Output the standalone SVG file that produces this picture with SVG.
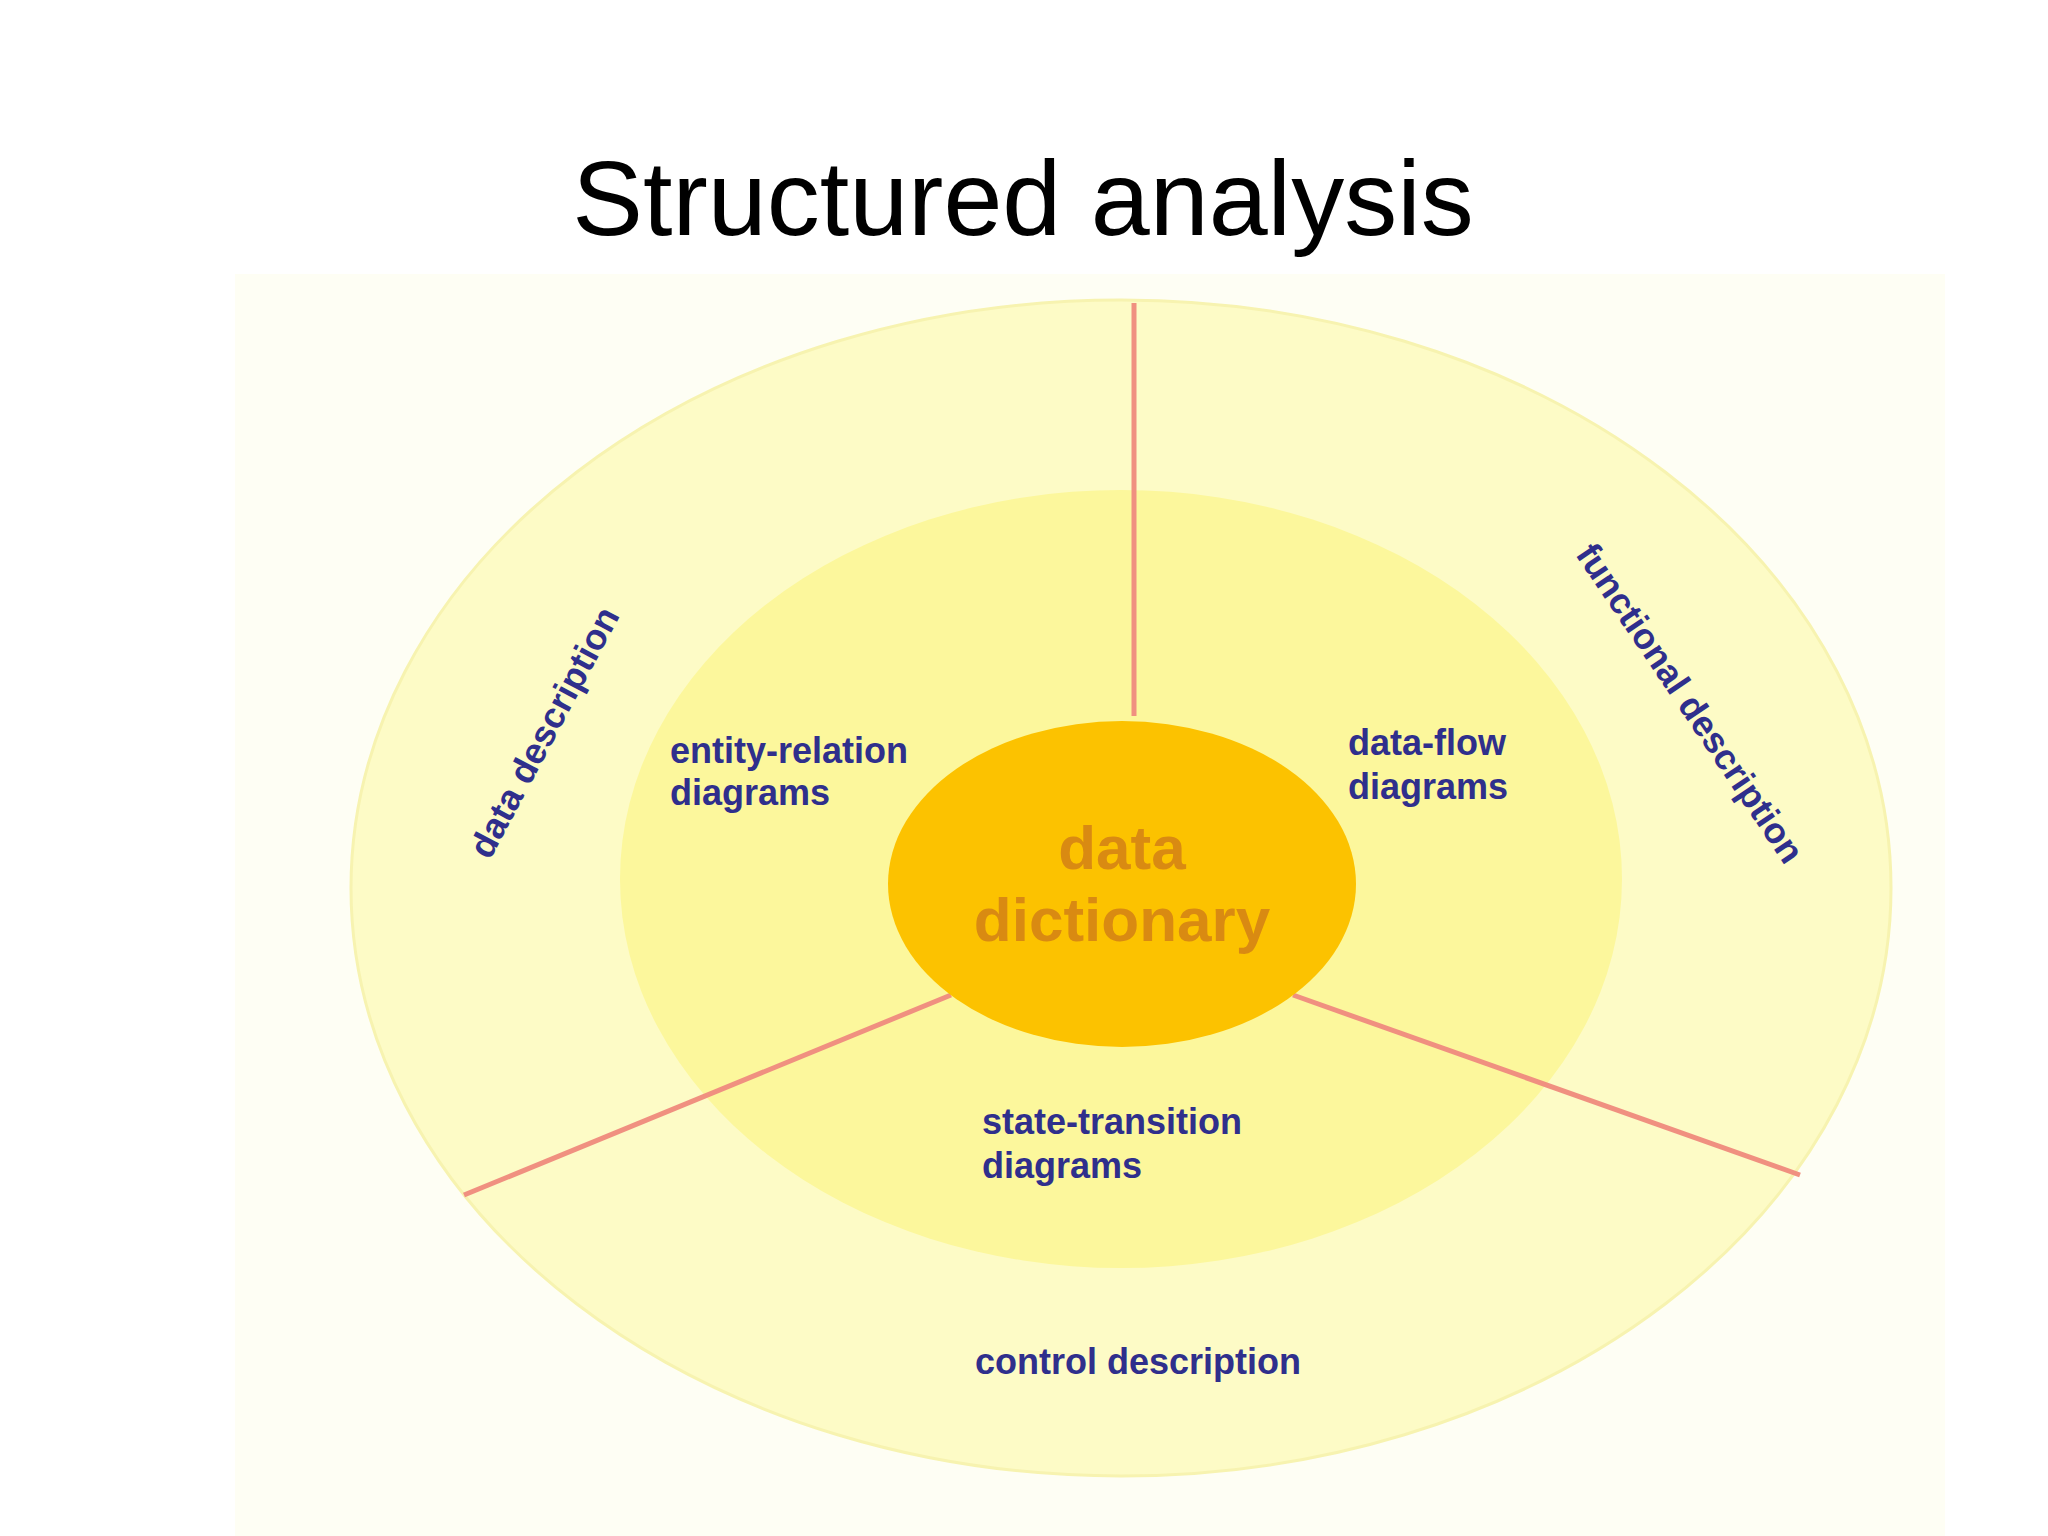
<svg xmlns="http://www.w3.org/2000/svg" width="2048" height="1536" viewBox="0 0 2048 1536">
<style>
.lbl{font-family:"Liberation Sans",Arial,sans-serif;font-weight:bold;font-size:36px;fill:#2f2f8c}
.dd{font-family:"Liberation Sans",Arial,sans-serif;font-weight:bold;font-size:62px;fill:#d98a12;text-anchor:middle}
.sep{stroke:#f09080;stroke-width:5;fill:none}
</style>
<rect width="2048" height="1536" fill="#ffffff"/>
<rect x="235" y="274" width="1710" height="1262" fill="#fefef4"/>
<text x="1023" y="235" font-family="Liberation Sans,Arial,sans-serif" font-size="106" text-anchor="middle" fill="#000">Structured analysis</text>
<g id="outer"><ellipse cx="1121" cy="888" rx="770" ry="588" fill="#fdfbc6" stroke="#f7f3b0" stroke-width="3"/></g>
<g id="inner"><ellipse cx="1121" cy="879" rx="501" ry="389" fill="#fcf79c"/></g>
<g id="connectors">
<line class="sep" x1="1134" y1="303" x2="1134" y2="716"/>
<line class="sep" x1="951" y1="995" x2="464" y2="1195"/>
<line class="sep" x1="1293" y1="995" x2="1800" y2="1175"/>
</g>
<g id="center"><ellipse cx="1122" cy="884" rx="234" ry="163" fill="#fcc200"/>
<text class="dd" x="1122" y="869">data</text>
<text class="dd" x="1122" y="941">dictionary</text></g>
<g id="er"><text class="lbl" x="670" y="763">entity-relation</text><text class="lbl" x="670" y="805">diagrams</text></g>
<g id="df"><text class="lbl" x="1348" y="755">data-flow</text><text class="lbl" x="1348" y="799">diagrams</text></g>
<g id="st"><text class="lbl" x="982" y="1134">state-transition</text><text class="lbl" x="982" y="1178">diagrams</text></g>
<g id="ctrl"><text class="lbl" x="1138" y="1374" text-anchor="middle">control description</text></g>
<g id="datadesc"><text class="lbl" x="0" y="0" text-anchor="middle" font-size="33" transform="translate(555,738) rotate(-62)">data description</text></g>
<g id="funcdesc"><text class="lbl" x="0" y="0" text-anchor="middle" font-size="33" transform="translate(1680,710) rotate(56)">functional description</text></g>
</svg>
